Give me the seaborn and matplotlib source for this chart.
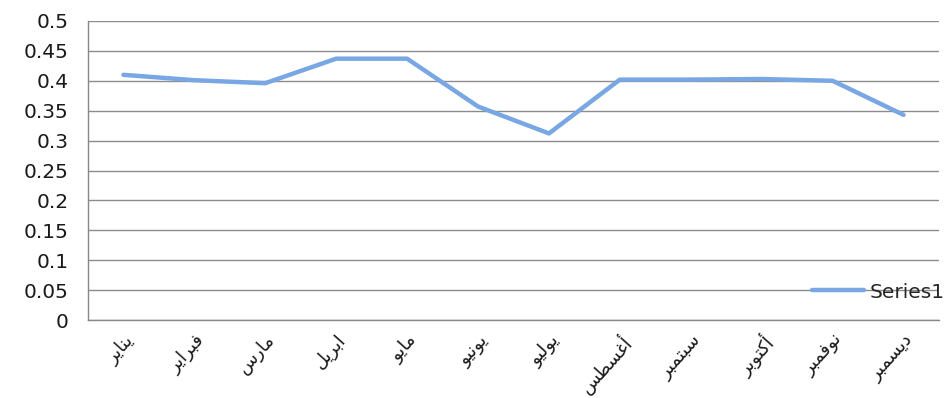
import matplotlib
matplotlib.use("Agg")
import matplotlib.pyplot as plt
import seaborn as sns
import pandas as pd

months = ["يناير", "فبراير", "مارس", "ابريل", "مايو", "يونيو",
          "يوليو", "أغسطس", "سبتمبر", "أكتوبر", "نوفمبر", "ديسمبر"]
values = [0.410, 0.401, 0.396, 0.437, 0.437, 0.357,
          0.312, 0.402, 0.402, 0.403, 0.400, 0.343]
y_ticks = [0, 0.05, 0.1, 0.15, 0.2, 0.25, 0.3, 0.35, 0.4, 0.45, 0.5]
y_labels = ["0", "0.05", "0.1", "0.15", "0.2", "0.25", "0.3", "0.35", "0.4", "0.45", "0.5"]

# matplotlib has no arabic shaping, so pick presentation forms by hand
# (isolated, final, initial, medial)
FORMS = {
    "ا": ("\uFE8D", "\uFE8E"), "أ": ("\uFE83", "\uFE84"),
    "د": ("\uFEA9", "\uFEAA"), "ر": ("\uFEAD", "\uFEAE"),
    "و": ("\uFEED", "\uFEEE"),
    "ب": ("\uFE8F", "\uFE90", "\uFE91", "\uFE92"),
    "ت": ("\uFE95", "\uFE96", "\uFE97", "\uFE98"),
    "س": ("\uFEB1", "\uFEB2", "\uFEB3", "\uFEB4"),
    "ط": ("\uFEC1", "\uFEC2", "\uFEC3", "\uFEC4"),
    "غ": ("\uFECD", "\uFECE", "\uFECF", "\uFED0"),
    "ف": ("\uFED1", "\uFED2", "\uFED3", "\uFED4"),
    "ك": ("\uFED9", "\uFEDA", "\uFEDB", "\uFEDC"),
    "ل": ("\uFEDD", "\uFEDE", "\uFEDF", "\uFEE0"),
    "م": ("\uFEE1", "\uFEE2", "\uFEE3", "\uFEE4"),
    "ن": ("\uFEE5", "\uFEE6", "\uFEE7", "\uFEE8"),
    "ي": ("\uFEF1", "\uFEF2", "\uFEF3", "\uFEF4"),
}


def shape(word):
    out = []
    for i, c in enumerate(word):
        f = FORMS[c]
        prev_joins = i > 0 and len(FORMS[word[i - 1]]) == 4
        next_joins = i + 1 < len(word) and len(f) == 4
        if prev_joins and next_joins:
            out.append(f[3])
        elif prev_joins:
            out.append(f[1])
        elif next_joins:
            out.append(f[2])
        else:
            out.append(f[0])
    return "".join(reversed(out))


df = pd.DataFrame({"month": months, "value": values})
df["pos"] = range(len(months))

sns.set_style("white")
plt.rcParams["font.family"] = ["DejaVu Sans"]

fig = plt.figure(figsize=(9.46, 3.98), dpi=100)
ax = fig.add_axes([88 / 946, 1 - 320 / 398, (939 - 88) / 946, 299 / 398])

sns.lineplot(data=df, x="pos", y="value", ax=ax, color="#78a7e4",
             linewidth=3.2, label="Series1", solid_capstyle="round")

ax.set_xlim(-0.5, len(months) - 0.5)
ax.set_ylim(0, 0.5)
ax.set_yticks(y_ticks, y_labels, fontsize=14.5, color="#1a1a1a")
ax.set_xticks(df["pos"], [shape(m) for m in months], rotation=48, ha="right",
              rotation_mode="anchor", fontsize=13, color="#1a1a1a")
ax.set_xticks([p - 0.5 for p in range(len(months) + 1)], minor=True)
ax.tick_params(axis="x", which="major", length=0, pad=8)
ax.tick_params(axis="x", which="minor", length=7, color="#888888", width=1)
ax.tick_params(axis="y", length=9, color="#888888", width=1, pad=5)
ax.grid(axis="y", color="#8c8c8c", linewidth=1)
ax.set_axisbelow(True)
ax.set_xlabel("")
ax.set_ylabel("")
for s in ["top", "right"]:
    ax.spines[s].set_visible(False)
for s in ["left", "bottom"]:
    ax.spines[s].set_color("#888888")
    ax.spines[s].set_linewidth(1)

ax.legend_.remove()
fig.legend(*ax.get_legend_handles_labels(), loc="center right",
           bbox_to_anchor=(0.999, 1 - 292 / 398), frameon=False, fontsize=14.5,
           handlelength=2.6, handletextpad=0.3, borderpad=0, borderaxespad=0)

fig.savefig("out.png", dpi=100)
